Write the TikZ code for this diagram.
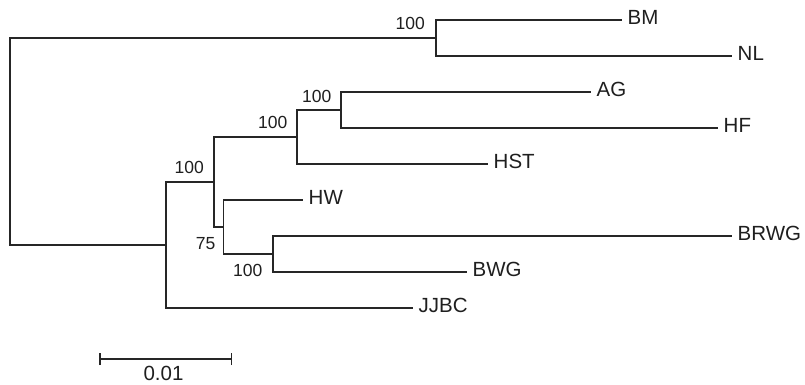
\documentclass[tikz,border=0pt]{standalone}
\usepackage{fontspec}
\setmainfont{Liberation Sans}
\begin{document}
\begin{tikzpicture}[x=1pt,y=-1pt,
  branch/.style={draw=black!85,line width=1.5pt},
  taxon/.style={anchor=base west,inner sep=0pt,text=black!88,font=\fontsize{20.5}{21}\selectfont},
  boot/.style={anchor=east,inner sep=0pt,text=black!88,font=\fontsize{17.5}{18}\selectfont},
  scalelab/.style={anchor=center,inner sep=0pt,text=black!88,font=\fontsize{20.5}{21}\selectfont}]
\useasboundingbox[fill=white] (0,0) rectangle (805,384);

% internal nodes
\coordinate (r)  at (10,141.5);
\coordinate (n1) at (436,38);
\coordinate (n2) at (166,245);
\coordinate (n3) at (214,182);
\coordinate (n4) at (297,137);
\coordinate (n5) at (341,110);
\coordinate (n6) at (223.5,227);
\coordinate (n7) at (273,254);

% branch tips
\coordinate (tBM)   at (622,20);
\coordinate (tNL)   at (732,56);
\coordinate (tAG)   at (591,92);
\coordinate (tHF)   at (718,128);
\coordinate (tHST)  at (488,164);
\coordinate (tHW)   at (303,200);
\coordinate (tBRWG) at (732,236);
\coordinate (tBWG)  at (467,272);
\coordinate (tJJBC) at (413,308);

% taxon labels
\tikzset{taxonat/.style={xshift=5.5pt,yshift=-4.8pt}}
\node[taxon] (BM)   at ([taxonat]tBM)   {BM};
\node[taxon] (NL)   at ([taxonat]tNL)   {NL};
\node[taxon] (AG)   at ([taxonat]tAG)   {AG};
\node[taxon] (HF)   at ([taxonat]tHF)   {HF};
\node[taxon] (HST)  at ([taxonat]tHST)  {HST};
\node[taxon] (HW)   at ([taxonat]tHW)   {HW};
\node[taxon] (BRWG) at ([taxonat]tBRWG) {BRWG};
\node[taxon] (BWG)  at ([taxonat]tBWG)  {BWG};
\node[taxon] (JJBC) at ([taxonat]tJJBC) {JJBC};

% branches
\path[branch] (r) |- (n1);
\path[branch] (r) |- (n2);
\path[branch] (n1) |- (tBM);
\path[branch] (n1) |- (tNL);
\path[branch] (n2) |- (n3);
\path[branch] (n2) |- (tJJBC);
\path[branch] (n3) |- (n4);
\path[branch] (n3) |- (n6);
\path[branch] (n4) |- (n5);
\path[branch] (n4) |- (tHST);
\path[branch] (n5) |- (tAG);
\path[branch] (n5) |- (tHF);
\path[branch] (n6) |- (tHW);
\path[branch] (n6) |- (n7);
\path[branch] (n7) |- (tBRWG);
\path[branch] (n7) |- (tBWG);

% bootstrap support
\node[boot] (b1) at (425,23.3)  {100};
\node[boot] (b5) at (331.5,96)  {100};
\node[boot] (b4) at (287.5,122.7) {100};
\node[boot] (b3) at (204,167.3) {100};
\node[boot] (b6) at (215.5,244) {75};
\node[boot] (b7) at (262.5,270.7) {100};

% scale bar
\coordinate (sL) at (100,359);
\coordinate (sR) at (231.7,359);
\path[branch] (sL) -- (sR);
\path[branch] ([yshift=-6pt]sL) -- ([yshift=6pt]sL);
\path[branch] ([yshift=-6pt]sR) -- ([yshift=6pt]sR);
\node[scalelab] (sc) at (163.5,373.3) {0.01};
\end{tikzpicture}
\end{document}
